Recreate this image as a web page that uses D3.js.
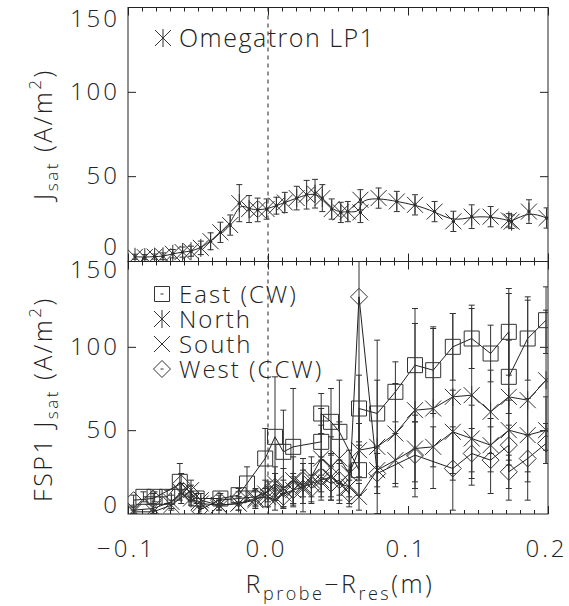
<!DOCTYPE html>
<html>
<head>
<meta charset="utf-8">
<script src="https://cdnjs.cloudflare.com/ajax/libs/d3/7.8.5/d3.min.js"></script>
<style>
body { margin: 0; background: #fff; }
text { font-family: "Open Sans", "DejaVu Sans", sans-serif; font-weight: 300; fill: #222; }
</style>
</head>
<body>
<div id="chart"></div>
<script>
// Omegatron LP1 (upper panel)
var lpX = [-0.095, -0.088, -0.081, -0.075, -0.068, -0.061, -0.055, -0.048, -0.041, -0.034,
    -0.027, -0.0205, -0.0135, -0.0074, -0.001, 0.006, 0.012, 0.0205, 0.0276, 0.0336,
    0.0388, 0.0455, 0.052, 0.057, 0.066, 0.066, 0.079, 0.092, 0.105, 0.119,
    0.1324, 0.1455, 0.159, 0.172, 0.174, 0.1864, 0.199];
var lpY = [2.2, 2, 2.3, 2.5, 4, 5, 5.5, 7.5, 11.4, 16.7,
    21, 34, 30.5, 30, 30.5, 32.5, 34.4, 37, 39, 39.6,
    37, 30.5, 28.5, 29, 28.5, 36, 37, 35, 33, 29,
    23.2, 26, 26, 23.8, 23, 29, 25.2];
var lpErr = [1.5, 1.5, 1.5, 2, 2.5, 3, 3, 4, 5, 6,
    6, 11, 8, 7, 6, 5, 6, 7, 8.5, 8.5,
    8, 6, 6, 6, 6, 6, 6, 6, 6, 6,
    6, 7, 6, 4, 4, 7, 6];

// FSP1 (lower panel)
var eastX = [-0.089, -0.081, -0.072, -0.063, -0.051, -0.034, -0.021, -0.015, -0.002, 0.005,
    0.011, 0.018, 0.038, 0.038, 0.045, 0.051, 0.065, 0.065, 0.078, 0.091,
    0.105, 0.118, 0.132, 0.1455, 0.159, 0.172, 0.172, 0.1855, 0.1986];
var eastY = [10, 10, 10, 19, 9, 9, 11, 18, 33, 46,
    37, 40, 43, 60, 55, 49, 26, 63, 60, 73,
    89, 86, 100, 105, 96, 109, 82, 105, 116];
var eastErr = [3, 3, 4, 11, 3, 3, 4, 10, 18, 36,
    25, 35, 20, 12, 20, 31, 15, 20, 44, 18,
    34, 26, 20, 18, 17, 26, 22, 25, 20];

var northX = [-0.096, -0.082, -0.069, -0.062, -0.055, -0.048, -0.035, -0.021, -0.009, -0.002,
    0.005, 0.011, 0.018, 0.025, 0.031, 0.038, 0.045, 0.051, 0.058, 0.065,
    0.078, 0.091, 0.105, 0.118, 0.132, 0.1455, 0.159, 0.172, 0.1855, 0.1986];
var northY = [2, 3, 7, 12, 9, 6, 5, 6, 8, 12,
    18, 15, 20, 17, 22, 33, 28, 33, 24, 38,
    40, 48, 62, 63, 70, 71, 61, 70, 68, 80];
var northErr = [2, 3, 4, 6, 4, 3, 3, 4, 5, 8,
    10, 12, 14, 16, 12, 20, 18, 22, 14, 16,
    40, 30, 52, 48, 50, 54, 25, 62, 60, 42];

var southX = [-0.096, -0.082, -0.069, -0.055, -0.048, -0.035, -0.021, -0.009, 0.0, 0.005,
    0.011, 0.018, 0.025, 0.031, 0.038, 0.045, 0.051, 0.058, 0.065, 0.078,
    0.091, 0.105, 0.118, 0.132, 0.1455, 0.159, 0.172, 0.1855, 0.1986];
var southY = [1, 1, 5, 14, 8, 5, 6, 9, 10, 8,
    12, 14, 16, 18, 20, 22, 18, 16, 10, 26,
    32, 39, 40, 49, 45, 41, 50, 47, 50];
var southErr = [1, 1, 3, 6, 4, 3, 4, 5, 6, 6,
    8, 10, 10, 12, 12, 14, 12, 10, 8, 14,
    16, 20, 12, 25, 20, 16, 18, 22, 20];

var westX = [-0.096, -0.082, -0.062, -0.055, -0.049, -0.035, -0.021, -0.009, 0.0, 0.005,
    0.011, 0.018, 0.025, 0.031, 0.038, 0.045, 0.051, 0.058, 0.065, 0.078,
    0.105, 0.132, 0.1455, 0.159, 0.172, 0.172, 0.1855, 0.1986];
var westY = [8, 9, 18, 12, 2, 8, 9, 10, 13, 16,
    10, 14, 20, 15, 22, 18, 20, 12, 130, 24,
    35, 27, 36, 32, 41, 25, 33, 42];
var westErr = [3, 3, 6, 5, 2, 3, 4, 5, 6, 8,
    6, 8, 10, 8, 12, 10, 12, 8, 110, 12,
    20, 25, 15, 20, 12, 10, 14, 12];

// ticks and legend labels
var xMajor = [-0.1, 0.0, 0.1, 0.2];
var xMinor = d3.range(-10, 21).map(d => d / 100).filter(d => Math.abs(d * 10 - Math.round(d * 10)) > 1e-6);
var yLabels = [0, 50, 100, 150];
var yInner = [50, 100];
var fspNames = ["East (CW)", "North", "South", "West (CCW)"];
var fspSymbols = ["square", "asterisk", "cross", "diamond"];

var svgWidth = 569;
var svgHeight = 606;
var plot = {left: 128, right: 548, top: 7.5, mid: 261.5, bottom: 514};
var ink = "#222";

var svg = d3.select("#chart").append("svg").attr("width", svgWidth).attr("height", svgHeight);

var x = d3.scaleLinear().domain([-0.1, 0.2]).range([plot.left, plot.right]);
var yTop = d3.scaleLinear().domain([0, 150]).range([260.5, 7.5]);
var yBot = d3.scaleLinear().domain([0, 150]).range([513.5, 263.5]);

// clip regions for each panel
var defs = svg.append("defs");
defs.append("clipPath").attr("id", "clipTop").append("rect")
    .attr("x", plot.left).attr("y", plot.top)
    .attr("width", plot.right - plot.left).attr("height", plot.mid - plot.top);
defs.append("clipPath").attr("id", "clipBot").append("rect")
    .attr("x", plot.left).attr("y", plot.mid)
    .attr("width", plot.right - plot.left).attr("height", plot.bottom - plot.mid);

// marker shapes
function markerPath(type, cx, cy) {
    if (type === "asterisk") {
        var r = 9, d = 8;
        return `M${cx},${cy - r}V${cy + r}M${cx - d},${cy - d}L${cx + d},${cy + d}M${cx - d},${cy + d}L${cx + d},${cy - d}`;
    }
    if (type === "cross") {
        var c = 8;
        return `M${cx - c},${cy - c}L${cx + c},${cy + c}M${cx - c},${cy + c}L${cx + c},${cy - c}`;
    }
    if (type === "square") {
        var s = 7.5;
        return `M${cx - s},${cy - s}h${2 * s}v${2 * s}h${-2 * s}Z`;
    }
    var q = 8.5;
    return `M${cx},${cy - q}L${cx + q},${cy}L${cx},${cy + q}L${cx - q},${cy}Z`;
}

function drawSeries(clipId, xs, ys, errs, yScale, type, curve, dots) {
    var pts = xs.map((v, i) => ({x: v, y: ys[i], e: errs[i]}));
    var g = svg.append("g").attr("clip-path", `url(#${clipId})`)
        .attr("fill", "none").attr("stroke", ink).attr("stroke-width", 1);

    // error bars
    g.selectAll(null).data(pts).enter().append("path")
        .attr("stroke", "#333")
        .attr("d", d => {
            var cx = x(d.x), y1 = yScale(d.y + d.e), y2 = yScale(d.y - d.e);
            return `M${cx - 3},${y1}h6M${cx},${y1}V${y2}M${cx - 3},${y2}h6`;
        });

    // connecting line
    g.append("path").datum(pts)
        .attr("d", d3.line().x(d => x(d.x)).y(d => yScale(d.y)).curve(curve));

    if (dots) {
        g.selectAll(null).data(pts).enter().append("circle")
            .attr("cx", d => x(d.x)).attr("cy", d => yScale(d.y)).attr("r", 1.6)
            .attr("fill", ink).attr("stroke", "none");
    }

    // symbols
    g.selectAll(null).data(pts).enter().append("path")
        .attr("stroke", "#333")
        .attr("d", d => markerPath(type, x(d.x), yScale(d.y)));
}

// frames
[[plot.top, plot.mid], [plot.mid, plot.bottom]].forEach(function(p) {
    svg.append("rect")
        .attr("x", plot.left).attr("y", p[0])
        .attr("width", plot.right - plot.left).attr("height", p[1] - p[0])
        .attr("fill", "none").attr("stroke", ink).attr("stroke-width", 1);
});

// x ticks on top, middle (both ways) and bottom
function xTicks(yPos, len) {
    svg.append("g").attr("transform", `translate(0,${yPos})`).attr("color", ink)
        .call(d3.axisBottom(x).tickValues(xMajor).tickSize(len * 2).tickFormat(""))
        .call(g => g.select(".domain").remove());
    svg.append("g").attr("transform", `translate(0,${yPos})`).attr("color", ink)
        .call(d3.axisBottom(x).tickValues(xMinor).tickSize(len).tickFormat(""))
        .call(g => g.select(".domain").remove());
}
xTicks(plot.top, 4);
xTicks(plot.mid, -4);
xTicks(plot.mid, 4);
xTicks(plot.bottom, -4);

// y ticks, left and right, for both panels
[yTop, yBot].forEach(function(ys) {
    svg.append("g").attr("transform", `translate(${plot.left},0)`).attr("color", ink)
        .call(d3.axisLeft(ys).tickValues(yInner).tickSize(-8).tickFormat(""))
        .call(g => g.select(".domain").remove());
    svg.append("g").attr("transform", `translate(${plot.right},0)`).attr("color", ink)
        .call(d3.axisRight(ys).tickValues(yInner).tickSize(-8).tickFormat(""))
        .call(g => g.select(".domain").remove());
});

// y tick labels (end labels pulled inside the panel like the original)
function yTickLabels(ys, shift) {
    svg.append("g").attr("transform", `translate(${plot.left},0)`)
        .call(d3.axisLeft(ys).tickValues(yLabels).tickSize(0).tickPadding(8).tickFormat(d3.format("d")))
        .call(g => g.select(".domain").remove())
        .selectAll("text")
        .attr("font-size", 24).attr("letter-spacing", 3).attr("fill", ink)
        .attr("y", d => shift[d] || 0);
}
yTickLabels(yTop, {150: 11.5, 0: -13.5});
yTickLabels(yBot, {150: 6, 0: -8.5});

// x tick labels
svg.append("g").attr("transform", `translate(0,${plot.bottom})`)
    .call(d3.axisBottom(x).tickValues(xMajor).tickSize(0).tickPadding(26).tickFormat(d3.format(".1f")))
    .call(g => g.select(".domain").remove())
    .selectAll("text")
    .attr("font-size", 24).attr("letter-spacing", 3).attr("fill", ink).attr("x", -2);

// dashed line at R_probe = R_res
svg.append("line")
    .attr("x1", x(0)).attr("x2", x(0))
    .attr("y1", plot.top).attr("y2", plot.bottom)
    .attr("stroke", ink).attr("stroke-width", 1).attr("stroke-dasharray", "4,4");

// data
drawSeries("clipTop", lpX, lpY, lpErr, yTop, "asterisk", d3.curveBasis, true);
drawSeries("clipBot", eastX, eastY, eastErr, yBot, "square", d3.curveLinear, false);
drawSeries("clipBot", northX, northY, northErr, yBot, "asterisk", d3.curveLinear, false);
drawSeries("clipBot", southX, southY, southErr, yBot, "cross", d3.curveLinear, false);
drawSeries("clipBot", westX, westY, westErr, yBot, "diamond", d3.curveLinear, false);

// legends
function legendSymbol(type, cx, cy, centerDash) {
    svg.append("path").attr("d", markerPath(type, cx, cy))
        .attr("fill", "none").attr("stroke", "#333").attr("stroke-width", 1);
    if (centerDash) {
        svg.append("line").attr("x1", cx - 1.5).attr("x2", cx + 1.5).attr("y1", cy).attr("y2", cy)
            .attr("stroke", "#333");
    }
}
legendSymbol("asterisk", 163, 38, false);
svg.append("text").attr("x", 179).attr("y", 47)
    .attr("font-size", 25).attr("letter-spacing", 1.5).text("Omegatron LP1");

var rowGap = 25;
fspSymbols.forEach(function(s, i) {
    legendSymbol(s, 162, 294 + i * rowGap, s === "square" || s === "diamond");
});
var fspLegend = svg.append("text").attr("font-size", 24).attr("letter-spacing", 2);
fspNames.forEach(function(name, i) {
    fspLegend.append("tspan").attr("x", 179).attr("y", 303 + i * rowGap).text(name);
});

// axis titles
var xTitle = svg.append("text").attr("x", 340).attr("y", 593)
    .attr("text-anchor", "middle").attr("font-size", 25).attr("letter-spacing", 2.5);
xTitle.append("tspan").text("R");
xTitle.append("tspan").attr("font-size", 18).attr("dy", 7).text("probe");
xTitle.append("tspan").attr("dy", -7).text("\u2212R");
xTitle.append("tspan").attr("font-size", 18).attr("dy", 7).text("res");
xTitle.append("tspan").attr("dy", -7).text("(m)");

function yTitle(cy, prefix) {
    var t = svg.append("text").attr("transform", `translate(52,${cy}) rotate(-90)`)
        .attr("text-anchor", "middle").attr("font-size", 25).attr("letter-spacing", 2.5);
    t.append("tspan").text(prefix + "J");
    t.append("tspan").attr("font-size", 17).attr("dy", 6).text("sat");
    t.append("tspan").attr("dy", -6).text(" (A/m");
    t.append("tspan").attr("font-size", 17).attr("dy", -11).text("2");
    t.append("tspan").attr("dy", 11).text(")");
}
yTitle(134, "");
yTitle(399, "FSP1 ");
</script>
</body>
</html>
